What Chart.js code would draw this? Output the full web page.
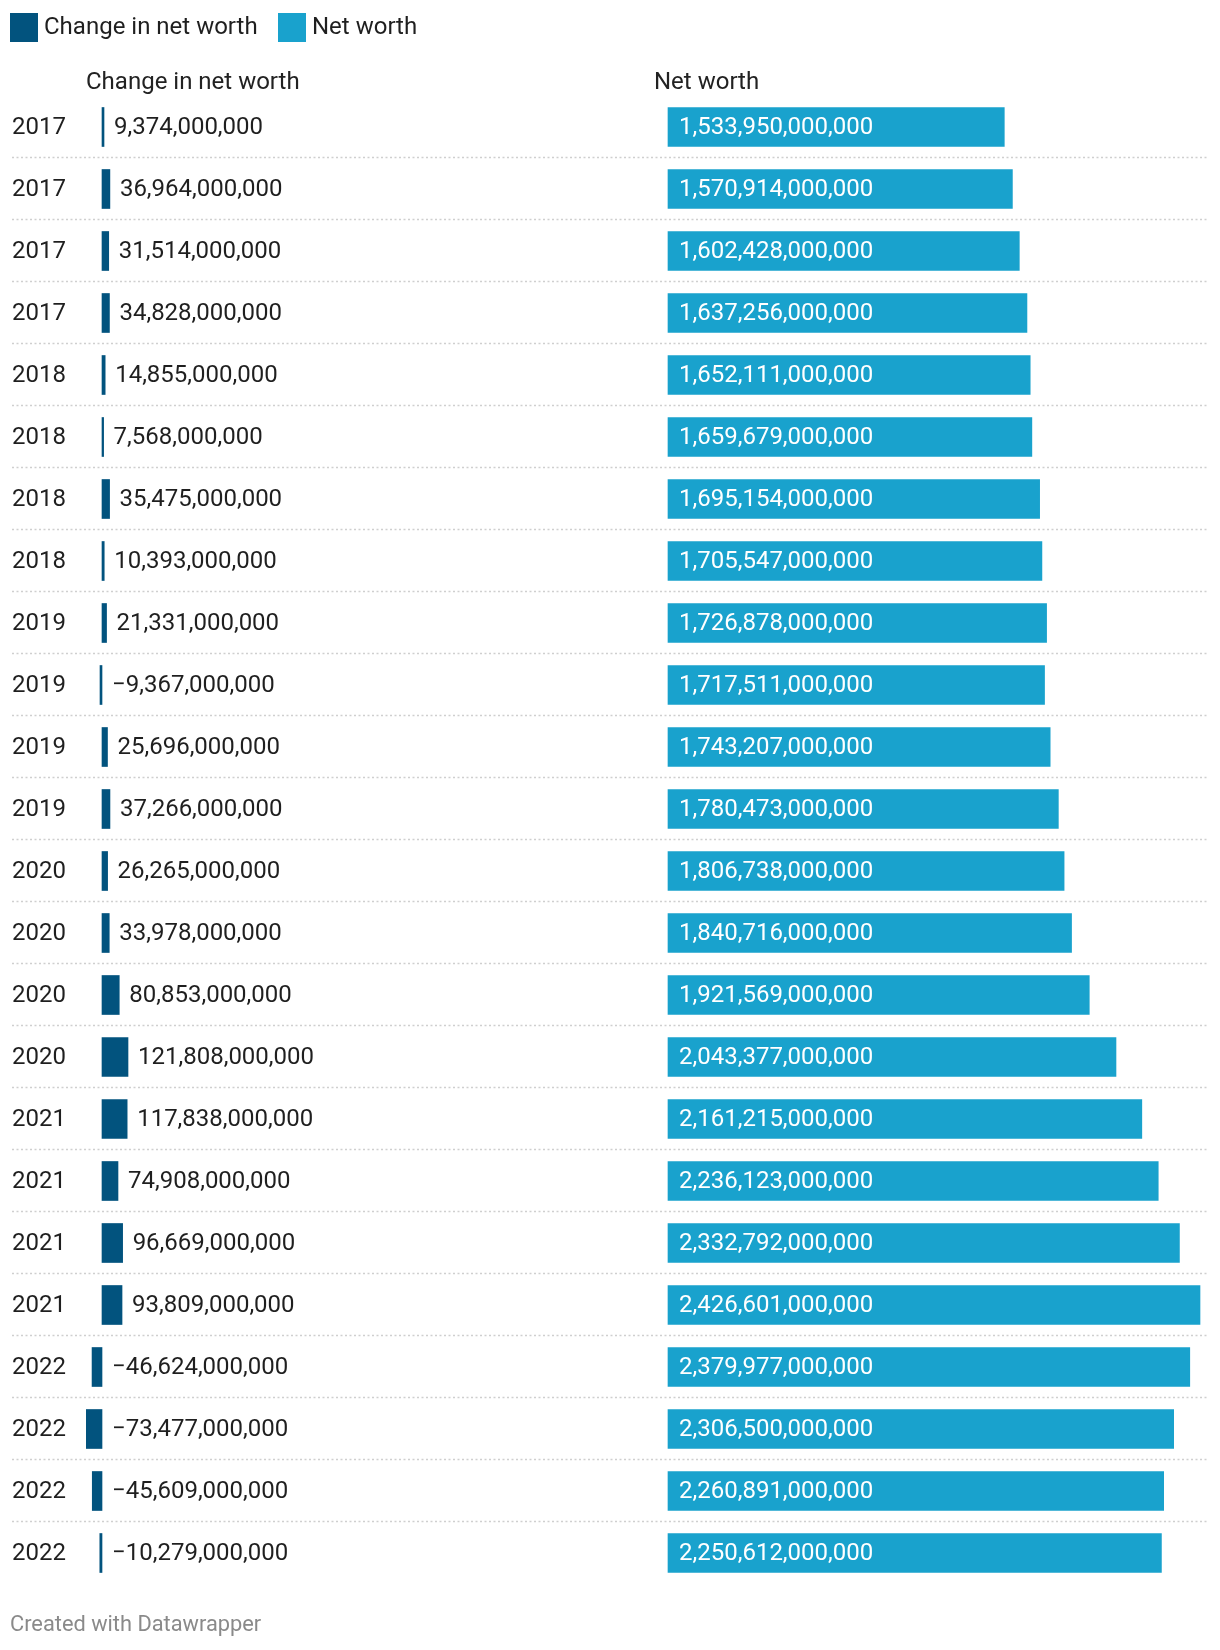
<!DOCTYPE html>
<html><head><meta charset="utf-8">
<script src="https://cdn.jsdelivr.net/npm/chart.js@4/dist/chart.umd.min.js"></script>
<style>html,body{margin:0;padding:0;background:#fff}canvas{display:block}</style>
</head><body>
<canvas id="chart" width="1220" height="1650"></canvas>
<script>
const years=['2017','2017','2017','2017','2018','2018','2018','2018','2019','2019','2019','2019',
  '2020','2020','2020','2020','2021','2021','2021','2021','2022','2022','2022','2022'];
// values in millions of dollars
const change=[9374,36964,31514,34828,14855,7568,35475,10393,21331,-9367,25696,37266,
  26265,33978,80853,121808,117838,74908,96669,93809,-46624,-73477,-45609,-10279];
const netWorth=[1533950,1570914,1602428,1637256,1652111,1659679,1695154,1705547,1726878,1717511,1743207,1780473,
  1806738,1840716,1921569,2043377,2161215,2236123,2332792,2426601,2379977,2306500,2260891,2250612];
const seriesNames=['Change in net worth','Net worth'];
const colors=['#02537e','#19a2cd'];

const W=1220,FONT='24px Roboto',TXT='#1f1f1f';
// horizontal placement of the two columns: zero pixel and pixel where the max value ends
const maxChange=Math.max(...change),maxNet=Math.max(...netWorth);
function range(zero,end,max){const k=(end-zero)/max;return {min:-zero/k,max:(W-zero)/k};}
const r1=range(102,128,maxChange),r2=range(668,1200,maxNet);
const fmt=v=>(v<0?'\u2212':'')+Math.abs(v*1e6).toLocaleString('en-US');

const decor={id:'decor',
  afterDatasetsDraw(c){
    const ctx=c.ctx,y=c.scales.y,x1=c.scales.x1,x2=c.scales.x2;
    ctx.save();ctx.font=FONT;ctx.textBaseline='middle';ctx.textAlign='left';
    // legend
    seriesNames.forEach((n,i)=>{const lx=[10,278][i];
      ctx.fillStyle=colors[i];ctx.fillRect(lx,13,28,29);
      ctx.fillStyle=TXT;ctx.fillText(n,lx+34,28);});
    // column headers
    ctx.fillStyle='#222';ctx.fillText(seriesNames[0],86,83);ctx.fillText(seriesNames[1],654,83);
    // separators
    ctx.strokeStyle='#cfcfcf';ctx.lineWidth=1.5;ctx.setLineDash([2,2.5]);
    for(let i=0;i<years.length-1;i++){const yy=Math.round((y.getPixelForValue(i)+y.getPixelForValue(i+1))/2)-0.5;
      ctx.beginPath();ctx.moveTo(12,yy);ctx.lineTo(1208,yy);ctx.stroke();}
    ctx.setLineDash([]);
    years.forEach((yr,i)=>{const yy=y.getPixelForValue(i)+1;
      ctx.fillStyle=TXT;ctx.fillText(yr,12,yy);
      const v=change[i],lx=(v>0?x1.getPixelForValue(v):x1.getPixelForValue(0))+10;
      ctx.fillText(fmt(v),lx,yy);
      ctx.fillStyle='#fff';ctx.fillText(fmt(netWorth[i]),x2.getPixelForValue(0)+11,yy);});
    // footer
    ctx.fillStyle='#8a8a8a';ctx.font='21.8px Roboto';ctx.fillText('Created with Datawrapper',10,1626);
    ctx.restore();}};

const ctx=document.getElementById('chart').getContext('2d');
new Chart(ctx,{type:'bar',
  data:{labels:years,datasets:[
    {label:seriesNames[0],data:change,xAxisID:'x1',backgroundColor:colors[0],grouped:false,barThickness:39},
    {label:seriesNames[1],data:netWorth,xAxisID:'x2',backgroundColor:colors[1],grouped:false,barThickness:39}]},
  options:{indexAxis:'y',responsive:false,animation:false,devicePixelRatio:1,
    layout:{padding:{top:96,bottom:66,left:0,right:0}},
    plugins:{legend:{display:false},tooltip:{enabled:false}},
    scales:{y:{type:'category',display:false,offset:true},
      x1:{type:'linear',axis:'x',display:false,min:r1.min,max:r1.max},
      x2:{type:'linear',axis:'x',display:false,min:r2.min,max:r2.max}}},
  plugins:[decor]});
</script>
</body></html>
